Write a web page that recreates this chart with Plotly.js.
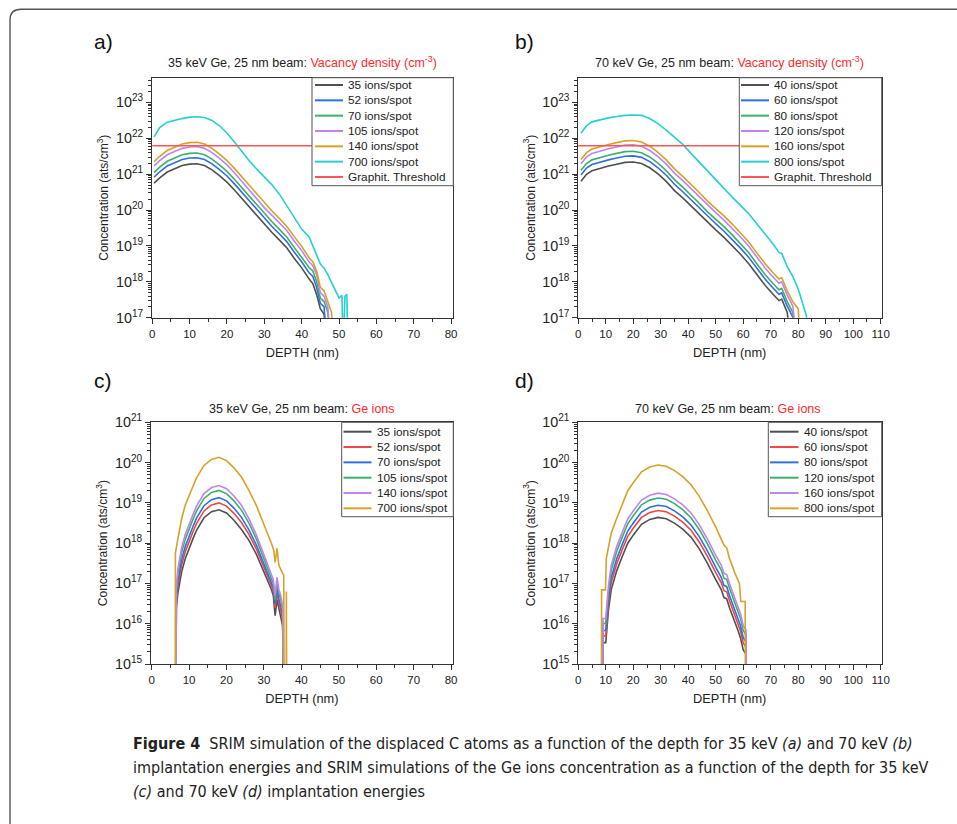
<!DOCTYPE html>
<html>
<head>
<meta charset="utf-8">
<script src="https://cdn.plot.ly/plotly-3.0.1.min.js"></script>
<style>html,body{margin:0;padding:0;background:#fff;}#chart{width:957px;height:824px;}</style>
</head>
<body>
<div id="chart"></div>
<script>
// ---------- Panel a: 35 keV, vacancy density ----------
const depthA = [0.5,2,4,6,8,10,12,14,16,18,20,22,24,26,28,30,32,34,36,38,40,42,43,44,45,46,47,48,49];
const a35  = [5.62e20,7.94e20,1.15e21,1.45e21,1.74e21,1.91e21,1.95e21,1.74e21,1.32e21,9.12e20,6.03e20,3.63e20,2.09e20,1.20e20,6.92e19,3.89e19,2.40e19,1.48e19,8.91e18,4.57e18,2.45e18,1.20e18,8.91e17,4.47e17,1.78e17,1.26e17,1e16,null,null];
const a52  = [8.32e20,1.17e21,1.70e21,2.14e21,2.57e21,2.82e21,2.88e21,2.57e21,1.95e21,1.35e21,8.91e20,5.37e20,3.09e20,1.78e20,1.02e20,5.75e19,3.55e19,2.19e19,1.32e19,6.76e18,3.63e18,1.78e18,1.41e18,7.08e17,2.51e17,2.00e17,1e16,null,null];
const a70  = [1.12e21,1.58e21,2.29e21,2.88e21,3.47e21,3.80e21,3.89e21,3.47e21,2.63e21,1.82e21,1.20e21,7.24e20,4.17e20,2.40e20,1.38e20,7.76e19,4.79e19,2.95e19,1.78e19,9.12e18,4.90e18,2.51e18,2.00e18,1.00e18,3.55e17,2.82e17,1.41e17,1e16,null];
const a105 = [1.70e21,2.40e21,3.47e21,4.37e21,5.25e21,5.75e21,5.89e21,5.25e21,3.98e21,2.75e21,1.82e21,1.10e21,6.31e20,3.63e20,2.09e20,1.17e20,7.24e19,4.47e19,2.69e19,1.38e19,7.41e18,3.55e18,2.82e18,1.58e18,5.01e17,3.98e17,2.00e17,1e16,null];
const a140 = [2.24e21,3.16e21,4.57e21,5.75e21,6.92e21,7.59e21,7.76e21,6.92e21,5.25e21,3.63e21,2.40e21,1.45e21,8.32e20,4.79e20,2.75e20,1.55e20,9.55e19,5.89e19,3.55e19,1.82e19,9.77e18,4.68e18,3.63e18,2.00e18,7.08e17,5.62e17,2.82e17,1.41e17,1e16];
const depthA700 = [0.5,2,4,6,8,10,12,14,16,18,20,22,24,26,28,30,32,34,36,38,40,42,43,44,45,46,47,48,49,50,50.8,51.1,51.6,52.1,52.4];
const a700 = [1.10e22,2.00e22,2.82e22,3.24e22,3.55e22,3.89e22,3.98e22,3.80e22,3.16e22,2.24e22,1.41e22,7.94e21,4.17e21,2.34e21,1.38e21,8.51e20,5.13e20,2.82e20,1.35e20,6.46e19,2.95e19,1.78e19,9.55e18,5.62e18,3.16e18,2.40e18,1.58e18,9.55e17,5.62e17,3.55e17,4.17e17,1e16,3.98e17,4.47e17,1e16];
const thresholdX_A = [0, 80];
const thresholdY = [6.2e21, 6.2e21];

// ---------- Panel b: 70 keV, vacancy density ----------
const depthB = [1,3,5,8,11,14,17,20,23,26,29,32,35,38,41,44,47,50,53,56,59,62,65,68,71,73,74,76,78,80,81];
const b40  = [6.4e20,9.95e20,1.25e21,1.47e21,1.69e21,1.90e21,2.13e21,2.18e21,1.99e21,1.51e21,1.02e21,6.3e20,3.5e20,2.18e20,1.31e20,7.7e19,4.45e19,2.8e19,1.73e19,1.02e19,5.85e18,3.2e18,1.58e18,7.9e17,4.35e17,3.0e17,3.3e17,1.4e17,1e16,null,null];
const b60  = [9.56e20,1.48e21,1.86e21,2.19e21,2.51e21,2.82e21,3.17e21,3.24e21,2.95e21,2.24e21,1.51e21,9.34e20,5.25e20,3.24e20,1.95e20,1.15e20,6.62e19,4.17e19,2.57e19,1.51e19,8.7e18,4.8e18,2.35e18,1.18e18,6.5e17,4.5e17,4.9e17,2.09e17,1.05e17,1e16,null];
const b80  = [1.29e21,1.99e21,2.51e21,2.95e21,3.38e21,3.80e21,4.26e21,4.36e21,3.97e21,3.02e21,2.04e21,1.26e21,7.05e20,4.36e20,2.63e20,1.55e20,8.9e19,5.6e19,3.46e19,2.04e19,1.17e19,6.45e18,3.16e18,1.58e18,8.7e17,6.0e17,6.6e17,2.81e17,1.41e17,1e16,null];
const b120 = [1.95e21,3.02e21,3.80e21,4.47e21,5.13e21,5.75e21,6.46e21,6.61e21,6.03e21,4.57e21,3.09e21,1.91e21,1.07e21,6.61e20,3.98e20,2.34e20,1.35e20,8.51e19,5.25e19,3.09e19,1.78e19,9.77e18,4.79e18,2.40e18,1.32e18,9.12e17,1.00e18,4.27e17,2.14e17,1e16,null];
const b160 = [2.57e21,3.98e21,5.01e21,5.89e21,6.76e21,7.59e21,8.51e21,8.71e21,7.94e21,6.03e21,4.07e21,2.51e21,1.41e21,8.71e20,5.25e20,3.09e20,1.78e20,1.12e20,6.92e19,4.07e19,2.34e19,1.29e19,6.31e18,3.16e18,1.74e18,1.20e18,1.32e18,5.62e17,2.82e17,1.78e17,1e16];
const depthB800 = [1,3,5,8,11,14,17,20,23,26,29,32,35,38,41,44,47,50,53,56,59,62,65,68,71,73,74,76,78,80,81,82,83,84];
const b800 = [1.38e22,2.24e22,2.88e22,3.31e22,3.72e22,4.07e22,4.37e22,4.47e22,4.37e22,3.55e22,2.57e22,1.70e22,1.07e22,6.76e21,3.80e21,2.14e21,1.26e21,6.92e20,3.80e20,2.29e20,1.35e20,7.94e19,4.07e19,2.14e19,1.10e19,6.61e18,6.17e18,2.63e18,1.41e18,6.31e17,3.55e17,2.00e17,1.12e17,1e16];
const thresholdX_B = [0, 110];

// ---------- Panel c: 35 keV, Ge ions ----------
const depthC = [6.5,6.6,7,8,9,10,11,12,14,16,18,20,22,24,26,28,30,31,32,32.5,33,33.5,34,34.5,35,35.3];
const c35  = [1e14,2.51e16,5.62e16,1.91e17,4.17e17,7.59e17,1.26e18,2.09e18,4.27e18,6.03e18,6.76e18,5.62e18,3.72e18,2.19e18,1.17e18,5.25e17,2.00e17,1.26e17,7.08e16,5.01e16,1.58e16,3.98e16,2.24e16,1.58e16,8.91e15,1e14];
const c52  = [1e14,3.16e16,8.32e16,2.82e17,6.17e17,1.12e18,1.86e18,3.09e18,6.31e18,8.91e18,1.00e19,8.32e18,5.50e18,3.24e18,1.66e18,7.08e17,2.51e17,1.58e17,8.91e16,6.31e16,2.51e16,5.62e16,3.16e16,2.24e16,1.26e16,1e14];
const c70  = [1e14,3.98e16,1.12e17,3.80e17,8.32e17,1.51e18,2.51e18,4.17e18,8.51e18,1.20e19,1.35e19,1.12e19,7.41e18,4.37e18,2.14e18,8.91e17,3.02e17,1.91e17,1.12e17,7.94e16,3.16e16,7.94e16,3.98e16,2.82e16,1.58e16,1e14];
const c105 = [1e14,6.31e16,1.70e17,5.75e17,1.26e18,2.29e18,3.80e18,6.31e18,1.29e19,1.82e19,2.04e19,1.70e19,1.12e19,6.61e18,3.16e18,1.26e18,3.98e17,2.51e17,1.41e17,1.00e17,3.98e16,1.12e17,5.62e16,3.98e16,2.24e16,1e14];
const c140 = [1e14,7.94e16,2.24e17,7.59e17,1.66e18,3.02e18,5.01e18,8.32e18,1.70e19,2.40e19,2.69e19,2.24e19,1.48e19,8.71e18,4.07e18,1.58e18,5.01e17,3.02e17,1.78e17,1.26e17,5.01e16,1.41e17,7.08e16,5.01e16,2.82e16,1e14];
const depthC700 = [6.3,6.35,7,8,9,10,11,12,14,16,18,20,22,24,26,28,30,31,32,32.6,33,33.5,34,35,35.3,35.4,35.95,36.0,36.1];
const c700 = [1e14,5.62e17,1.26e18,3.98e18,8.91e18,1.58e19,2.51e19,4.17e19,8.51e19,1.20e20,1.35e20,1.12e20,7.41e19,4.37e19,2.04e19,8.51e18,3.02e18,1.86e18,1.00e18,6.76e17,3.31e17,7.41e17,2.82e17,1.78e17,1.58e17,1e14,1e14,6.31e16,1e14];

// ---------- Panel d: 70 keV, Ge ions ----------
const depthD = [8.9,9.0,10.0,10.5,11,12,14,16,18,20,23,26,29,32,35,38,41,44,47,50,52,53,54,55,57,58,59,60,61,61.2];
const d40  = [1e14,3.4e15,3.4e15,1.12e16,2.23e16,7.05e16,2.08e17,4.65e17,9.95e17,1.58e18,2.93e18,3.88e18,4.35e18,4.05e18,3.15e18,2.23e18,1.41e18,7.2e17,3.15e17,1.25e17,7.05e16,4.45e16,4.15e16,2.5e16,1.12e16,7.05e15,4.45e15,2.23e15,1.77e15,1e14];
const d60  = [1e14,5.0e15,5.0e15,1.66e16,3.31e16,1.05e17,3.09e17,6.92e17,1.48e18,2.35e18,4.35e18,5.77e18,6.47e18,6.03e18,4.69e18,3.31e18,2.09e18,1.07e18,4.69e17,1.86e17,1.05e17,6.62e16,6.17e16,3.72e16,1.66e16,1.05e16,6.62e15,3.31e15,2.63e15,1e14];
const d80  = [1e14,6.8e15,6.8e15,2.24e16,4.47e16,1.41e17,4.17e17,9.33e17,2.00e18,3.16e18,5.89e18,7.76e18,8.71e18,8.13e18,6.31e18,4.47e18,2.82e18,1.45e18,6.31e17,2.51e17,1.41e17,8.91e16,8.32e16,5.01e16,2.24e16,1.41e16,8.91e15,4.47e15,3.55e15,1e14];
const d120 = [1e14,1.02e16,1.02e16,3.39e16,6.76e16,2.14e17,6.31e17,1.41e18,3.02e18,4.79e18,8.91e18,1.17e19,1.32e19,1.23e19,9.55e18,6.76e18,4.27e18,2.19e18,9.55e17,3.80e17,2.14e17,1.35e17,1.26e17,7.59e16,3.39e16,2.14e16,1.35e16,6.76e15,5.37e15,1e14];
const d160 = [1e14,1.35e16,1.35e16,4.47e16,8.91e16,2.82e17,8.32e17,1.86e18,3.98e18,6.31e18,1.17e19,1.55e19,1.74e19,1.62e19,1.26e19,8.91e18,5.62e18,2.88e18,1.26e18,5.01e17,2.82e17,1.78e17,1.66e17,1.00e17,4.47e16,2.82e16,1.78e16,8.91e15,7.08e15,1e14];
const depthD800 = [8.4,8.5,9.9,10.2,11,12,14,16,18,20,23,26,29,32,35,38,41,44,47,50,52,53,54,55,57,58.6,59.1,60.7,60.8];
const d800 = [1e14,6.92e16,6.92e16,4.17e17,7.94e17,1.78e18,4.17e18,9.33e18,2.00e19,3.16e19,5.89e19,7.76e19,8.71e19,8.13e19,6.31e19,4.47e19,2.82e19,1.45e19,6.31e18,2.51e18,1.20e18,8.91e17,7.59e17,4.17e17,1.78e17,1.00e17,3.55e16,3.55e16,1e14];

// ---------- Names / labels ----------
const namesA = ['35 ions/spot','52 ions/spot','70 ions/spot','105 ions/spot','140 ions/spot','700 ions/spot','Graphit. Threshold'];
const namesB = ['40 ions/spot','60 ions/spot','80 ions/spot','120 ions/spot','160 ions/spot','800 ions/spot','Graphit. Threshold'];
const namesC = ['35 ions/spot','52 ions/spot','70 ions/spot','105 ions/spot','140 ions/spot','700 ions/spot'];
const namesD = ['40 ions/spot','60 ions/spot','80 ions/spot','120 ions/spot','160 ions/spot','800 ions/spot'];

// colours
const GRAY='#505050', BLUE='#2f6fe0', GREEN='#3daf6c', PURPLE='#c083f0', GOLD='#d6a227', CYAN='#25d0d2', RED='#ff5454', RED2='#f04646';
const colorsAB = [GRAY,BLUE,GREEN,PURPLE,GOLD,CYAN,RED];
const colorsCD = [GRAY,RED2,BLUE,GREEN,PURPLE,GOLD];

const W=957, H=824;
const px = x => x/W, py = y => 1 - y/H;
const FONT = 'Liberation Sans, Arial, Helvetica, sans-serif';

function tr(x, y, name, color, xa, ya){
  return {x:x, y:y, name:name, type:'scatter', mode:'lines', xaxis:xa, yaxis:ya,
          line:{color:color, width:1.6}, showlegend:false, connectgaps:false, hoverinfo:'x+y+name'};
}
const data = [
  tr(depthA, a35,  namesA[0], colorsAB[0], 'x','y'),
  tr(depthA, a52,  namesA[1], colorsAB[1], 'x','y'),
  tr(depthA, a70,  namesA[2], colorsAB[2], 'x','y'),
  tr(depthA, a105, namesA[3], colorsAB[3], 'x','y'),
  tr(depthA, a140, namesA[4], colorsAB[4], 'x','y'),
  tr(depthA700, a700, namesA[5], colorsAB[5], 'x','y'),
  tr(thresholdX_A, thresholdY, namesA[6], colorsAB[6], 'x','y'),

  tr(depthB, b40,  namesB[0], colorsAB[0], 'x2','y2'),
  tr(depthB, b60,  namesB[1], colorsAB[1], 'x2','y2'),
  tr(depthB, b80,  namesB[2], colorsAB[2], 'x2','y2'),
  tr(depthB, b120, namesB[3], colorsAB[3], 'x2','y2'),
  tr(depthB, b160, namesB[4], colorsAB[4], 'x2','y2'),
  tr(depthB800, b800, namesB[5], colorsAB[5], 'x2','y2'),
  tr(thresholdX_B, thresholdY, namesB[6], colorsAB[6], 'x2','y2'),

  tr(depthC, c35,  namesC[0], colorsCD[0], 'x3','y3'),
  tr(depthC, c52,  namesC[1], colorsCD[1], 'x3','y3'),
  tr(depthC, c70,  namesC[2], colorsCD[2], 'x3','y3'),
  tr(depthC, c105, namesC[3], colorsCD[3], 'x3','y3'),
  tr(depthC, c140, namesC[4], colorsCD[4], 'x3','y3'),
  tr(depthC700, c700, namesC[5], colorsCD[5], 'x3','y3'),

  tr(depthD, d40,  namesD[0], colorsCD[0], 'x4','y4'),
  tr(depthD, d60,  namesD[1], colorsCD[1], 'x4','y4'),
  tr(depthD, d80,  namesD[2], colorsCD[2], 'x4','y4'),
  tr(depthD, d120, namesD[3], colorsCD[3], 'x4','y4'),
  tr(depthD, d160, namesD[4], colorsCD[4], 'x4','y4'),
  tr(depthD800, d800, namesD[5], colorsCD[5], 'x4','y4')
];

function xAxis(dom, range, anchor){
  return {domain:[px(dom[0]), px(dom[1])], range:range, anchor:anchor,
    showline:true, mirror:true, linecolor:'#333', linewidth:1,
    ticks:'outside', ticklen:5, tickwidth:1, tickcolor:'#333', tick0:0, dtick:10,
    minor:{ticks:'outside', ticklen:3, tickwidth:1, tickcolor:'#333', dtick:5},
    showgrid:false, zeroline:false, tickfont:{size:11.5, color:'#222', family:FONT},
    title:{text:'DEPTH (nm)', font:{size:12.8, color:'#222', family:FONT}, standoff:9}};
}
function yAxis(dom, range, anchor){
  return {domain:[py(dom[1]), py(dom[0])], range:range, anchor:anchor, type:'log',
    showline:true, mirror:true, linecolor:'#333', linewidth:1,
    ticks:'outside', ticklen:5, tickwidth:1, tickcolor:'#333', dtick:1,
    exponentformat:'power', showexponent:'all',
    minor:{ticks:'outside', ticklen:2.5, tickwidth:1, tickcolor:'#333', dtick:'D1'},
    showgrid:false, zeroline:false, tickfont:{size:11.5, color:'#222', family:FONT},
    title:{text:'Concentration (ats/cm<sup>3</sup>)', font:{size:12, color:'#222', family:FONT}, standoff:4}};
}

const shapes = [];
const annotations = [];

function addLegend(box, rowY0, names, colors, lineX0, lineX1, textX){
  shapes.push({type:'rect', xref:'paper', yref:'paper', x0:px(box[0]), x1:px(box[1]), y0:py(box[3]), y1:py(box[2]),
               fillcolor:'#ffffff', line:{color:'#555', width:1}, layer:'above'});
  names.forEach((n,i)=>{
    const y = rowY0 + i*15.33;
    shapes.push({type:'line', xref:'paper', yref:'paper', x0:px(lineX0), x1:px(lineX1), y0:py(y), y1:py(y),
                 line:{color:colors[i], width:2}, layer:'above'});
    annotations.push({xref:'paper', yref:'paper', x:px(textX), y:py(y), xanchor:'left', yanchor:'middle',
                 text:n, showarrow:false, font:{size:11.8, color:'#222', family:FONT}});
  });
}
addLegend([312, 453.3, 77.7, 185.7], 85, namesA, colorsAB, 315, 343, 346);
addLegend([739.3, 881.7, 77.7, 185.7], 85, namesB, colorsAB, 741, 769, 772);
addLegend([341.7, 453.3, 422.3, 516.7], 431.7, namesC, colorsCD, 343.5, 371.5, 375);
addLegend([768.3, 881.7, 422.3, 516.7], 431.7, namesD, colorsCD, 770, 798.5, 801.7);

// outer rounded frame
shapes.push({type:'path', xref:'paper', yref:'paper', layer:'above',
  path:'M '+px(10)+' '+py(830)+' L '+px(10)+' '+py(20)+' Q '+px(10)+' '+py(9.3)+' '+px(21)+' '+py(9.3)+' L '+px(965)+' '+py(9.3),
  line:{color:'#555', width:1.4}});

// subplot titles
function title(x, y, txt){
  annotations.push({xref:'paper', yref:'paper', x:px(x), y:py(y), xanchor:'center', yanchor:'middle',
    text:txt, showarrow:false, font:{size:12.5, color:'#222', family:FONT}});
}
title(302, 62, '35 keV Ge, 25 nm beam: <span style="color:#ff2a2a">Vacancy density (cm<sup>-3</sup>)</span>');
title(729.5, 62, '70 keV Ge, 25 nm beam: <span style="color:#ff2a2a">Vacancy density (cm<sup>-3</sup>)</span>');
title(302, 409, '35 keV Ge, 25 nm beam: <span style="color:#ff2a2a">Ge ions</span>');
title(728, 409, '70 keV Ge, 25 nm beam: <span style="color:#ff2a2a">Ge ions</span>');

// panel letters
const panelLetters = ['a)','b)','c)','d)'];
const letterPos = [[92,42],[513,42],[92,381],[513,381]];
panelLetters.forEach((t,i)=>{
  annotations.push({xref:'paper', yref:'paper', x:px(letterPos[i][0]), y:py(letterPos[i][1]), xanchor:'left', yanchor:'middle',
    text:t, showarrow:false, font:{size:21, color:'#111', family:FONT}});
});

// caption
const captionLines = [
  '<b>Figure 4</b>  SRIM simulation of the displaced C atoms as a function of the depth for 35 keV <i>(a)</i> and 70 keV <i>(b)</i>',
  'implantation energies and SRIM simulations of the Ge ions concentration as a function of the depth for 35 keV',
  '<i>(c)</i> and 70 keV <i>(d)</i> implantation energies'
];
const captionY = [743, 767.5, 791.5];
captionLines.forEach((t,i)=>{
  annotations.push({xref:'paper', yref:'paper', x:px(131), y:py(captionY[i]), xanchor:'left', yanchor:'middle',
    text:t, showarrow:false, font:{size:16, color:'#222', family:'DejaVu Sans Condensed, Liberation Sans Narrow, Arial Narrow, sans-serif'}});
});

const layout = {
  width:W, height:H, autosize:false,
  margin:{l:0, r:0, t:0, b:0, pad:0},
  paper_bgcolor:'#ffffff', plot_bgcolor:'#ffffff',
  font:{family:FONT, color:'#222'},
  showlegend:false,
  xaxis:  xAxis([151.5, 453.3], [-0.2, 80.6], 'y'),
  yaxis:  yAxis([77.7, 317.7], [17, 23.69], 'x'),
  xaxis2: xAxis([577.7, 881.7], [-0.2, 110.35], 'y2'),
  yaxis2: yAxis([77.7, 317.7], [17, 23.69], 'x2'),
  xaxis3: xAxis([150.5, 453.3], [-0.3, 80.6], 'y3'),
  yaxis3: yAxis([422.3, 664], [15, 21], 'x3'),
  xaxis4: xAxis([577.7, 881.7], [-0.2, 110.35], 'y4'),
  yaxis4: yAxis([422.3, 664], [15, 21], 'x4'),
  shapes:shapes,
  annotations:annotations
};

Plotly.newPlot('chart', data, layout, {displayModeBar:false, staticPlot:true});
</script>
</body>
</html>
